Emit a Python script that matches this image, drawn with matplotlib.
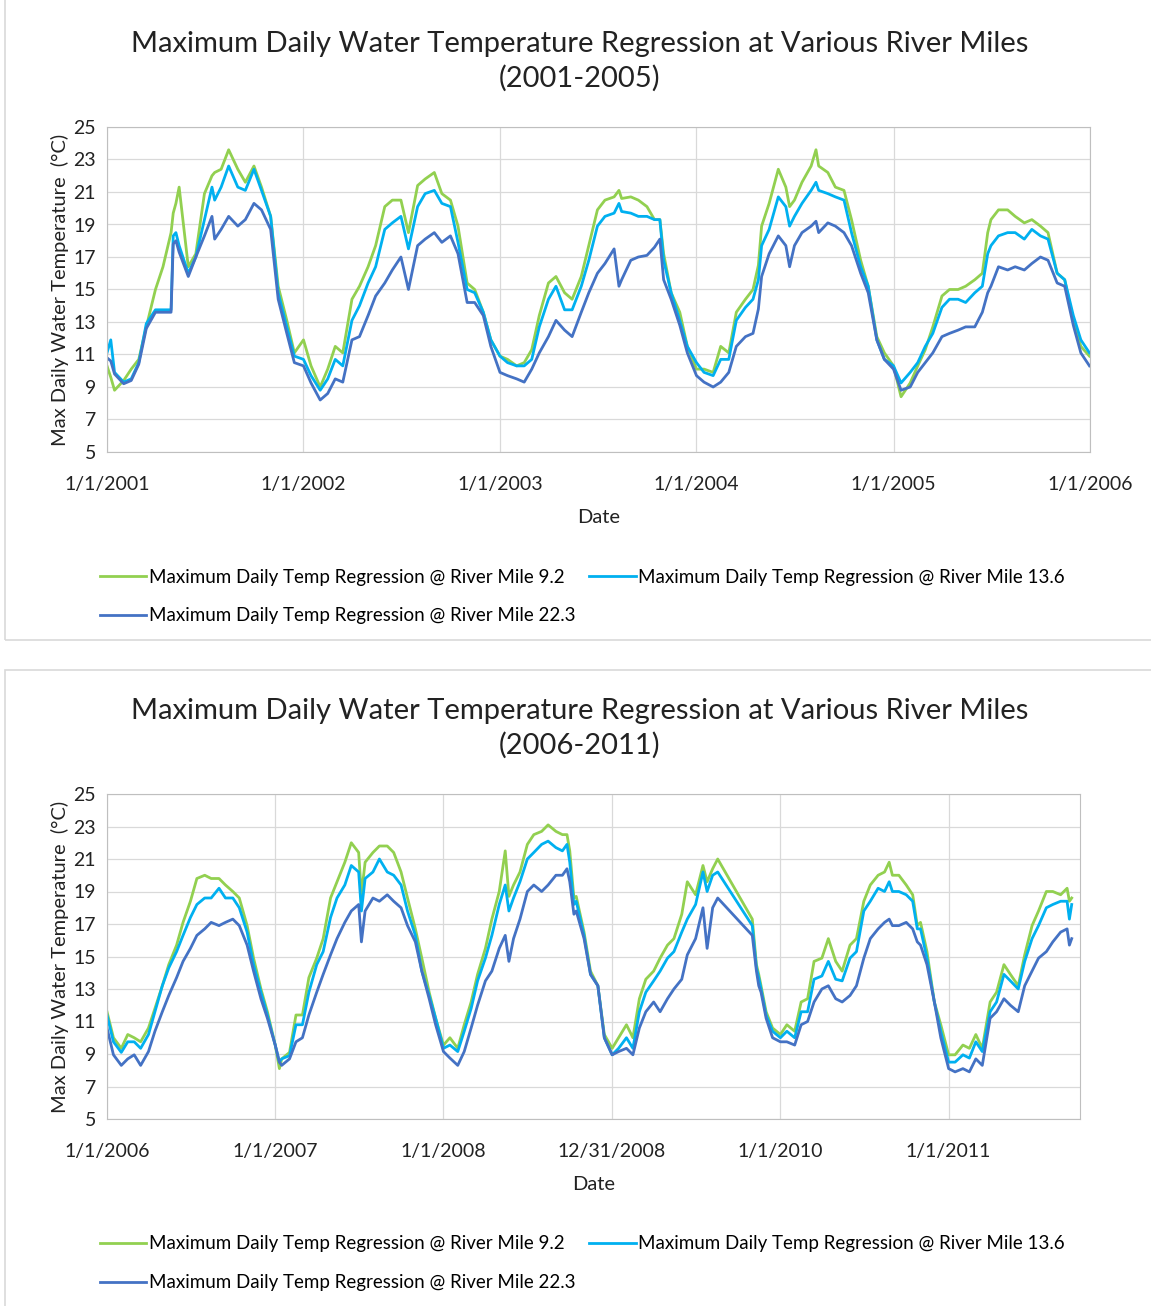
#Max daily water temperature regressions, two periods
import numpy as np
import pandas as pd
import matplotlib
matplotlib.use('Agg')
import matplotlib.pyplot as plt
import matplotlib.dates as mdates
from matplotlib.patches import Rectangle

plt.rcParams['font.family'] = ['Lato', 'DejaVu Sans']

#---- 2001-2005 ----
dates_a = ['2001-01-01', '2001-01-08', '2001-01-15', '2001-02-01', '2001-02-15', '2001-03-01', '2001-03-15',
           '2001-04-01', '2001-04-15', '2001-04-30', '2001-05-04', '2001-05-09', '2001-05-15', '2001-06-01',
           '2001-06-15', '2001-07-01', '2001-07-15', '2001-07-20', '2001-08-01', '2001-08-15', '2001-09-01',
           '2001-09-15', '2001-10-01', '2001-10-15', '2001-11-01', '2001-11-15', '2001-12-01', '2001-12-15',
           '2002-01-01', '2002-01-15', '2002-02-01', '2002-02-15', '2002-03-01', '2002-03-15', '2002-04-01',
           '2002-04-15', '2002-05-01', '2002-05-15', '2002-06-01', '2002-06-15', '2002-07-01', '2002-07-15',
           '2002-08-01', '2002-08-15', '2002-09-01', '2002-09-15', '2002-10-01', '2002-10-15', '2002-11-01',
           '2002-11-15', '2002-12-01', '2002-12-15',
           '2003-01-01', '2003-01-15', '2003-02-01', '2003-02-15', '2003-03-01', '2003-03-15', '2003-04-01',
           '2003-04-15', '2003-05-01', '2003-05-15', '2003-06-01', '2003-06-15', '2003-07-01', '2003-07-15',
           '2003-08-01', '2003-08-10', '2003-08-15', '2003-09-01', '2003-09-15', '2003-10-01', '2003-10-15',
           '2003-10-25', '2003-11-01', '2003-11-15', '2003-12-01', '2003-12-15',
           '2004-01-01', '2004-01-15', '2004-02-01', '2004-02-15', '2004-03-01', '2004-03-15', '2004-04-01',
           '2004-04-15', '2004-04-25', '2004-05-01', '2004-05-15', '2004-06-01', '2004-06-15', '2004-06-22',
           '2004-07-01', '2004-07-15', '2004-08-01', '2004-08-10', '2004-08-15', '2004-09-01', '2004-09-15',
           '2004-10-01', '2004-10-15', '2004-11-01', '2004-11-15', '2004-12-01', '2004-12-15',
           '2005-01-01', '2005-01-15', '2005-02-01', '2005-02-15', '2005-03-01', '2005-03-15', '2005-04-01',
           '2005-04-15', '2005-05-01', '2005-05-15', '2005-06-01', '2005-06-15', '2005-06-25', '2005-07-01',
           '2005-07-15', '2005-08-01', '2005-08-15', '2005-09-01', '2005-09-15', '2005-10-01', '2005-10-15',
           '2005-11-01', '2005-11-15', '2005-12-01', '2005-12-15', '2005-12-31']
rm92_a = [10.3, 9.6, 8.8, 9.4, 10.1, 10.7, 12.7, 15.0, 16.4, 18.5, 19.7, 20.3, 21.3, 16.4, 17.2, 20.9, 22.0, 22.2,
          22.4, 23.6, 22.4, 21.6, 22.6, 21.3, 19.5, 15.2, 13.1, 11.1,
          11.9, 10.3, 9.0, 10.1, 11.5, 11.1, 14.4, 15.2, 16.4, 17.7, 20.1, 20.5, 20.5, 18.5, 21.4, 21.8, 22.2, 20.9,
          20.5, 18.9, 15.4, 15.0, 13.6, 11.9,
          10.9, 10.7, 10.3, 10.5, 11.3, 13.4, 15.4, 15.8, 14.8, 14.4, 15.8, 17.7, 19.9, 20.5, 20.7, 21.1, 20.6, 20.7,
          20.5, 20.1, 19.3, 19.3, 17.2, 14.8, 13.6, 11.5,
          10.1, 10.1, 9.9, 11.5, 11.1, 13.6, 14.4, 15.0, 16.5, 18.9, 20.3, 22.4, 21.3, 20.1, 20.5, 21.6, 22.6, 23.6,
          22.6, 22.2, 21.3, 21.1, 19.3, 16.8, 15.2, 12.1, 11.1,
          10.3, 8.4, 9.25, 10.3, 11.3, 12.7, 14.6, 15.0, 15.0, 15.2, 15.6, 16.0, 18.5, 19.3, 19.9, 19.9, 19.5, 19.1,
          19.3, 18.9, 18.5, 16.0, 15.6, 13.1, 11.5, 10.9]
rm136_a = [11.1, 11.9, 9.9, 9.3, 9.5, 10.5, 12.9, 13.75, 13.75, 13.75, 18.3, 18.5, 17.7, 16.0, 17.0, 19.3, 21.3, 20.5,
           21.3, 22.6, 21.3, 21.1, 22.4, 21.1, 19.5, 14.8, 12.7, 10.9,
           10.7, 9.7, 8.8, 9.5, 10.7, 10.3, 13.1, 14.0, 15.4, 16.4, 18.7, 19.1, 19.5, 17.5, 20.1, 20.9, 21.1, 20.3,
           20.1, 17.9, 15.0, 14.8, 13.6, 11.9,
           10.9, 10.5, 10.3, 10.3, 10.7, 12.7, 14.4, 15.2, 13.75, 13.75, 15.2, 16.8, 18.9, 19.5, 19.7, 20.3, 19.8,
           19.7, 19.5, 19.5, 19.3, 19.3, 16.8, 14.8, 13.1, 11.5,
           10.5, 9.9, 9.7, 10.7, 10.7, 13.1, 13.9, 14.4, 15.6, 17.7, 18.7, 20.7, 20.1, 18.9, 19.5, 20.3, 21.1, 21.6,
           21.1, 20.9, 20.7, 20.5, 18.5, 16.4, 15.2, 11.9, 10.7,
           10.3, 9.25, 9.9, 10.5, 11.5, 12.3, 13.9, 14.4, 14.4, 14.2, 14.8, 15.2, 17.2, 17.7, 18.3, 18.5, 18.5, 18.1,
           18.7, 18.3, 18.1, 16.0, 15.6, 13.4, 11.9, 11.1]
rm223_a = [10.8, 10.6, 9.8, 9.2, 9.4, 10.4, 12.6, 13.6, 13.6, 13.6, 17.8, 18.0, 17.3, 15.8, 17.0, 18.3, 19.5, 18.1,
           18.7, 19.5, 18.9, 19.3, 20.3, 19.9, 18.7, 14.4, 12.3, 10.5,
           10.3, 9.25, 8.2, 8.6, 9.5, 9.3, 11.9, 12.1, 13.4, 14.6, 15.4, 16.2, 17.0, 15.0, 17.7, 18.1, 18.5, 17.9,
           18.3, 17.2, 14.2, 14.2, 13.4, 11.5,
           9.9, 9.7, 9.5, 9.3, 10.1, 11.1, 12.1, 13.1, 12.5, 12.1, 13.6, 14.8, 16.0, 16.6, 17.5, 15.2, 15.6, 16.8,
           17.0, 17.1, 17.6, 18.1, 15.6, 14.4, 12.8, 11.1,
           9.7, 9.3, 9.0, 9.3, 9.9, 11.5, 12.1, 12.3, 13.8, 15.8, 17.2, 18.3, 17.7, 16.4, 17.7, 18.5, 18.9, 19.2,
           18.5, 19.1, 18.9, 18.5, 17.7, 16.0, 14.8, 11.9, 10.7,
           10.1, 8.8, 9.0, 9.9, 10.5, 11.1, 12.1, 12.3, 12.5, 12.7, 12.7, 13.6, 14.8, 15.2, 16.4, 16.2, 16.4, 16.2,
           16.6, 17.0, 16.8, 15.4, 15.2, 12.8, 11.1, 10.3]
ticks_a = ['2001-01-01', '2002-01-01', '2003-01-01', '2004-01-01', '2005-01-01', '2006-01-01']
labels_a = ['1/1/2001', '1/1/2002', '1/1/2003', '1/1/2004', '1/1/2005', '1/1/2006']

#---- 2006-2011 ----
dates_b = ['2006-01-01', '2006-01-15', '2006-02-01', '2006-02-15', '2006-03-01', '2006-03-15', '2006-04-01',
           '2006-04-15', '2006-05-01', '2006-05-15', '2006-06-01', '2006-06-15', '2006-07-01', '2006-07-15',
           '2006-08-01', '2006-08-15', '2006-09-01', '2006-09-15', '2006-10-01', '2006-10-15', '2006-11-01',
           '2006-11-15', '2006-12-01', '2006-12-15',
           '2007-01-01', '2007-01-10', '2007-01-15', '2007-02-01', '2007-02-15', '2007-03-01', '2007-03-15',
           '2007-04-01', '2007-04-15', '2007-05-01', '2007-05-15', '2007-06-01', '2007-06-15', '2007-07-01',
           '2007-07-07', '2007-07-15', '2007-08-01', '2007-08-15', '2007-09-01', '2007-09-15', '2007-10-01',
           '2007-10-15', '2007-11-01', '2007-11-15', '2007-12-01', '2007-12-15',
           '2008-01-01', '2008-01-15', '2008-02-01', '2008-02-15', '2008-03-01', '2008-03-15', '2008-04-01',
           '2008-04-15', '2008-05-01', '2008-05-14', '2008-05-22', '2008-06-01', '2008-06-15', '2008-07-01',
           '2008-07-15', '2008-08-01', '2008-08-15', '2008-09-01', '2008-09-15', '2008-09-25', '2008-10-01',
           '2008-10-10', '2008-10-15', '2008-11-01', '2008-11-15', '2008-12-01', '2008-12-15',
           '2009-01-01', '2009-01-15', '2009-02-01', '2009-02-15', '2009-03-01', '2009-03-15', '2009-04-01',
           '2009-04-15', '2009-05-01', '2009-05-15', '2009-06-01', '2009-06-13', '2009-07-01', '2009-07-17',
           '2009-07-26', '2009-08-07', '2009-08-18', '2009-11-01', '2009-11-10', '2009-11-15', '2009-11-20',
           '2009-12-01', '2009-12-15',
           '2010-01-01', '2010-01-15', '2010-02-01', '2010-02-15', '2010-03-01', '2010-03-15', '2010-04-01',
           '2010-04-15', '2010-05-01', '2010-05-15', '2010-06-01', '2010-06-15', '2010-07-01', '2010-07-15',
           '2010-08-01', '2010-08-15', '2010-08-25', '2010-09-01', '2010-09-15', '2010-10-01', '2010-10-15',
           '2010-10-25', '2010-11-01', '2010-11-15', '2010-12-01', '2010-12-15',
           '2011-01-01', '2011-01-15', '2011-02-01', '2011-02-15', '2011-03-01', '2011-03-15', '2011-04-01',
           '2011-04-15', '2011-05-01', '2011-05-15', '2011-06-01', '2011-06-15', '2011-07-01', '2011-07-15',
           '2011-08-01', '2011-08-15', '2011-09-01', '2011-09-15', '2011-09-20', '2011-09-25']
rm92_b = [11.6, 10.0, 9.35, 10.2, 10.0, 9.75, 10.6, 11.8, 13.2, 14.5, 15.7, 17.1, 18.4, 19.8, 20.0, 19.8, 19.8, 19.4,
          19.0, 18.6, 16.9, 14.9, 13.0, 11.6,
          9.55, 8.1, 8.7, 9.1, 11.4, 11.4, 13.7, 14.9, 16.1, 18.6, 19.6, 20.8, 22.0, 21.4, 18.8, 20.8, 21.4, 21.8,
          21.8, 21.4, 20.2, 18.6, 16.7, 14.9, 12.8, 11.2,
          9.55, 10.0, 9.35, 10.8, 12.2, 13.9, 15.5, 17.3, 19.0, 21.5, 18.7, 19.4, 20.2, 21.9, 22.5, 22.7, 23.1, 22.7,
          22.5, 22.5, 21.5, 18.6, 18.7, 16.5, 14.1, 13.2, 10.2,
          9.35, 10.0, 10.8, 10.0, 12.4, 13.6, 14.1, 14.9, 15.7, 16.1, 17.6, 19.6, 18.8, 20.6, 19.6, 20.4, 21.0, 17.3,
          14.5, 13.9, 13.2, 11.6, 10.6,
          10.2, 10.8, 10.4, 12.2, 12.4, 14.7, 14.9, 16.1, 14.7, 14.1, 15.7, 16.1, 18.4, 19.4, 20.0, 20.2, 20.8, 20.0,
          20.0, 19.4, 18.8, 16.9, 17.1, 15.3, 12.2, 10.8,
          8.95, 8.95, 9.55, 9.35, 10.2, 9.35, 12.2, 12.8, 14.5, 13.9, 13.2, 15.1, 16.9, 17.8, 19.0, 19.0, 18.8, 19.2,
          18.4, 18.6]
rm136_b = [11.4, 9.75, 9.1, 9.75, 9.75, 9.35, 10.2, 11.6, 13.2, 14.3, 15.3, 16.3, 17.4, 18.2, 18.6, 18.6, 19.2, 18.6,
           18.6, 18.0, 16.5, 14.5, 12.8, 11.4,
           9.55, 8.5, 8.7, 8.9, 10.8, 10.8, 12.8, 14.5, 15.3, 17.4, 18.6, 19.4, 20.6, 20.2, 17.8, 19.8, 20.2, 21.0,
           20.2, 20.0, 19.4, 17.8, 16.3, 14.1, 12.6, 11.2,
           9.35, 9.55, 9.15, 10.4, 11.8, 13.5, 14.9, 16.3, 18.2, 19.4, 17.8, 18.6, 19.6, 21.0, 21.4, 21.9, 22.1, 21.7,
           21.5, 21.9, 20.8, 18.2, 18.4, 16.3, 13.9, 13.2, 10.0,
           8.95, 9.35, 10.0, 9.35, 11.6, 12.8, 13.5, 14.1, 14.9, 15.3, 16.5, 17.3, 18.2, 20.2, 19.0, 20.0, 20.2, 16.9,
           14.3, 13.7, 13.0, 11.4, 10.4,
           10.0, 10.4, 10.0, 11.6, 11.6, 13.6, 13.8, 14.7, 13.6, 13.5, 14.9, 15.3, 17.8, 18.4, 19.2, 19.0, 19.6, 19.0,
           19.0, 18.8, 18.4, 16.7, 16.7, 14.9, 12.2, 10.4,
           8.5, 8.5, 8.95, 8.75, 9.75, 9.15, 11.6, 12.2, 13.9, 13.5, 13.0, 14.7, 16.1, 16.9, 18.0, 18.2, 18.4, 18.4,
           17.3, 18.2]
rm223_b = [10.6, 8.95, 8.3, 8.7, 8.95, 8.3, 9.15, 10.4, 11.6, 12.6, 13.7, 14.7, 15.5, 16.3, 16.7, 17.1, 16.9, 17.1,
           17.3, 16.9, 15.7, 14.1, 12.4, 11.2,
           9.55, 8.5, 8.3, 8.7, 9.75, 10.0, 11.4, 12.8, 13.9, 15.1, 16.1, 17.1, 17.8, 18.2, 15.9, 17.8, 18.6, 18.4,
           18.8, 18.4, 18.0, 16.9, 15.9, 14.1, 12.4, 10.8,
           9.15, 8.75, 8.3, 9.15, 10.6, 12.0, 13.5, 14.1, 15.5, 16.3, 14.7, 16.1, 17.3, 19.0, 19.4, 19.0, 19.4, 20.0,
           20.0, 20.4, 19.6, 17.6, 17.8, 16.1, 13.9, 13.2, 10.0,
           8.95, 9.15, 9.35, 8.95, 10.6, 11.6, 12.2, 11.6, 12.4, 13.0, 13.6, 15.1, 16.1, 18.0, 15.5, 18.0, 18.6, 16.3,
           14.1, 13.2, 12.8, 11.2, 10.0,
           9.75, 9.75, 9.55, 10.8, 11.0, 12.2, 13.0, 13.2, 12.4, 12.2, 12.6, 13.2, 14.9, 16.1, 16.7, 17.1, 17.3, 16.9,
           16.9, 17.1, 16.7, 15.9, 15.7, 14.5, 12.2, 10.0,
           8.1, 7.9, 8.1, 7.9, 8.7, 8.3, 11.2, 11.6, 12.4, 12.0, 11.6, 13.2, 14.1, 14.9, 15.3, 15.9, 16.5, 16.7,
           15.7, 16.1]
ticks_b = ['2006-01-01', '2007-01-01', '2008-01-01', '2008-12-31', '2010-01-01', '2011-01-01']
labels_b = ['1/1/2006', '1/1/2007', '1/1/2008', '12/31/2008', '1/1/2010', '1/1/2011']

names = ['Maximum Daily Temp Regression @ River Mile 9.2',
         'Maximum Daily Temp Regression @ River Mile 13.6',
         'Maximum Daily Temp Regression @ River Mile 22.3']
colors = ['#92D050', '#00B0F0', '#4472C4']

W, H = 1151, 1306
fig = plt.figure(figsize=(W / 100, H / 100), dpi=100)

#chart area borders
fig.patches.append(Rectangle((5 / W, 1 - 640 / H), 1.2, 1.0, transform=fig.transFigure,
                             fill=False, edgecolor='#D9D9D9', lw=1.2))
fig.patches.append(Rectangle((5 / W, -0.01), 1.2, 1 - 670 / H + 0.01, transform=fig.transFigure,
                             fill=False, edgecolor='#D9D9D9', lw=1.2))


def panel(rect, dates, series, ticks, labels, xmax, title, ttl_y, leg_y):
    ax = fig.add_axes(rect)
    d = pd.to_datetime(dates)
    lines = []
    for vals, col, nm in zip(series, colors, names):
        assert len(vals) == len(d)
        ln, = ax.plot(d, vals, color=col, lw=2.0, label=nm, solid_joinstyle='round')
        lines.append(ln)
    ax.set_xlim(pd.Timestamp(ticks[0]), pd.Timestamp(xmax))
    ax.set_ylim(5, 25)
    ax.set_yticks(np.arange(5, 26, 2))
    ax.set_xticks(pd.to_datetime(ticks))
    ax.set_xticklabels(labels)
    ax.grid(True, color='#D9D9D9', lw=0.9)
    ax.set_axisbelow(True)
    for s in ax.spines.values():
        s.set_color('#BFBFBF')
    ax.tick_params(axis='x', length=0, labelsize=14, colors='#222222', pad=17)
    ax.tick_params(axis='y', length=0, labelsize=14, colors='#222222', pad=8)
    ax.set_xlabel('Date', fontsize=14.5, color='#222222', labelpad=12)
    ax.set_ylabel('Max Daily Water Temperature  (\u00b0C)', fontsize=14.5, color='#222222', labelpad=3)
    fig.text(580 / W, ttl_y, title, ha='center', va='center', fontsize=21, color='#222222', linespacing=1.35)
    fig.legend([lines[0], lines[2], lines[1]], [names[0], names[2], names[1]],
               loc='upper left', bbox_to_anchor=(92 / W, leg_y), ncol=2, frameon=False,
               fontsize=13.5, handlelength=2.5, handletextpad=0.15, columnspacing=0.7,
               labelspacing=1.15, borderaxespad=0)
    return ax


panel([107 / W, 1 - 452 / H, 983 / W, 325 / H], dates_a, [rm92_a, rm136_a, rm223_a], ticks_a, labels_a,
      '2006-01-01', 'Maximum Daily Water Temperature Regression at Various River Miles\n(2001-2005)',
      1 - 61 / H, 1 - 561 / H)
panel([107 / W, 1 - 1119 / H, 973 / W, 325 / H], dates_b, [rm92_b, rm136_b, rm223_b], ticks_b, labels_b,
      '2011-10-13', 'Maximum Daily Water Temperature Regression at Various River Miles\n(2006-2011)',
      1 - 728 / H, 1 - 1228 / H)

fig.savefig('out.png', dpi=100, facecolor='white')
